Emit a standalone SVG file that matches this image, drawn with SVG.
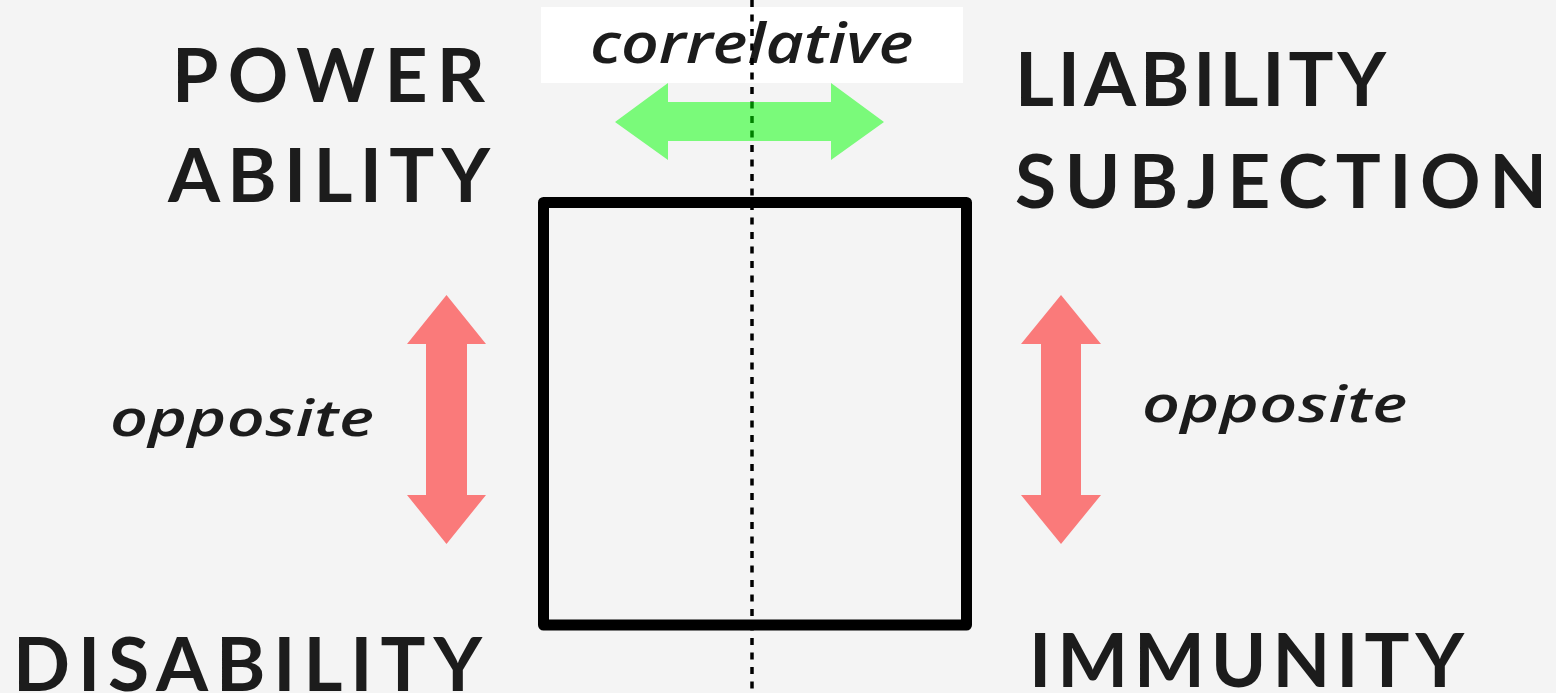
<svg xmlns="http://www.w3.org/2000/svg" width="1556" height="693" viewBox="0 0 1556 693">
<style>
.cap{font-family:Lato,"Open Sans","DejaVu Sans",sans-serif;font-weight:700;font-size:75px;fill:#1c1c1c}
.it{font-family:"Open Sans",Lato,"DejaVu Sans",sans-serif;font-weight:600;font-style:italic;fill:#1c1c1c;font-variant-ligatures:none}
.red{fill:#ff0000;fill-opacity:0.5}
.green{fill:#00ff00;fill-opacity:0.5}
</style>
<rect width="1556" height="693" fill="#f4f4f4"/>
<g id="correlative-label">
<rect x="541" y="7" width="422" height="76" fill="#ffffff"/>
<text class="it" transform="translate(590,63) scale(1.18,1)" x="0" y="0" font-size="56" textLength="274" lengthAdjust="spacing" fill="#000">correlative</text>
</g>
<g id="connectors">
<line x1="752" y1="0" x2="752" y2="693" stroke="#000" stroke-width="3.5" stroke-dasharray="7 7.5"/>
<polygon class="green" points="615,122 668,83 668,102 831,102 831,83 884,122 831,160 831,141 668,141 668,160"/>
<polygon class="red" points="446.5,295 486,344 467,344 467,495 486,495 446.5,544 407,495 426,495 426,344 407,344"/>
<polygon class="red" points="1061,295 1101,344 1081,344 1081,495 1101,495 1061,544 1021,495 1041,495 1041,344 1021,344"/>
</g>
<g id="square">
<rect x="543.5" y="202.5" width="423" height="422.5" fill="none" stroke="#000" stroke-width="11" stroke-linejoin="round"/>
</g>
<g id="power">
<text class="cap" x="172" y="102" textLength="313" lengthAdjust="spacing">POWER</text>
<text class="cap" x="168" y="202" textLength="322" lengthAdjust="spacing">ABILITY</text>
</g>
<g id="liability">
<text class="cap" x="1015" y="106" textLength="371" lengthAdjust="spacing">LIABILITY</text>
<text class="cap" x="1015" y="208" textLength="532" lengthAdjust="spacing">SUBJECTION</text>
</g>
<g id="disability">
<text class="cap" x="13" y="691" textLength="469" lengthAdjust="spacing">DISABILITY</text>
</g>
<g id="immunity">
<text class="cap" x="1029" y="687" textLength="435" lengthAdjust="spacing">IMMUNITY</text>
</g>
<g id="opposite-left">
<text class="it" transform="translate(110,436) scale(1.3,1)" x="0" y="0" font-size="51" textLength="203" lengthAdjust="spacing">opposite</text>
</g>
<g id="opposite-right">
<text class="it" transform="translate(1142,422) scale(1.3,1)" x="0" y="0" font-size="51" textLength="204" lengthAdjust="spacing">opposite</text>
</g>
</svg>
